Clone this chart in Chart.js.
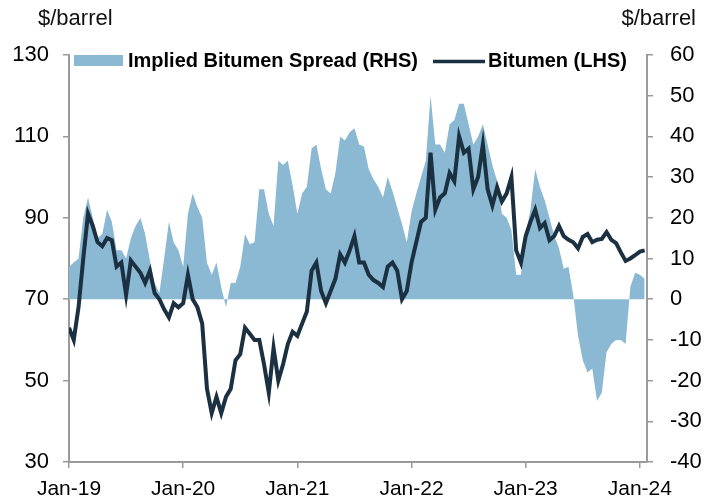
<!DOCTYPE html>
<html>
<head>
<meta charset="utf-8">
<script src="https://cdn.jsdelivr.net/npm/chart.js@4.4.1/dist/chart.umd.min.js"></script>
<style>
  html, body { margin: 0; padding: 0; background: #fff; }
  #wrap { width: 715px; height: 504px; }
</style>
</head>
<body>
<div id="wrap"><canvas id="chart" width="715" height="504"></canvas></div>
<script>
// x axis tick labels, one per January
const xLabels = ['Jan-19', 'Jan-20', 'Jan-21', 'Jan-22', 'Jan-23', 'Jan-24'];
// points are read every half month starting Jan-19
const stepMonths = 0.5;

// Bitumen price, $/barrel (LHS)
const bitumen = [
  63, 60, 68, 80, 91, 88, 84, 83, 85, 84.5, 78, 79,
  71, 79.5, 78, 76.5, 74, 77, 71.5, 70, 67.5, 65.5, 69, 68,
  69, 76, 70, 68, 64, 48, 42, 46, 42, 46, 48, 55,
  56.5, 63, 61.5, 60, 60, 54, 47, 58, 50, 54, 59, 62,
  61, 64, 67, 77, 79, 72, 69, 72, 75, 81, 79, 82,
  85.5, 79, 79, 76, 74.7, 74, 73, 78, 79, 77, 70, 72,
  79, 84, 89, 90, 106, 92, 95, 96, 101, 99, 110, 106,
  107, 97, 100, 108, 97, 93, 97.5, 94, 96, 100, 82, 79,
  85.5, 89, 92, 87.5, 88.7, 84.5, 85.5, 88, 85.5, 84.6, 84, 82.5,
  85.3, 86, 84, 84.6, 84.8, 86.5, 84.6, 83.8, 81.5, 79.4, 80, 80.8,
  81.7, 82
];

// Implied bitumen spread, $/barrel (RHS)
const spread = [
  8, 9, 10, 20, 25, 20, 15, 16, 22, 19, 12, 12,
  10, 15, 18, 20, 16, 9.6, 4, 1.5, 10, 19, 14, 12,
  8, 21, 26, 22.6, 20, 9, 6, 9, 3, -2, 4, 4,
  8, 16, 13.5, 14, 27, 27, 21, 18, 34, 33, 34, 28,
  21, 26, 27.6, 37, 38, 32, 27, 26, 31, 40, 39, 41,
  42, 38, 37.5, 32, 29.5, 27.6, 25, 30, 26.5, 22.5, 18.5, 14,
  21.5, 26, 30, 34, 50, 38, 38, 36, 43, 44, 48, 48,
  43, 38, 40, 43, 38, 33, 29, 21, 20, 17, 6, 6,
  16, 22, 32, 27.5, 24.3, 20, 15.5, 12.5, 7.5, 8, 1, -9,
  -15, -18, -17, -25, -23, -13, -11, -10, -10, -11, 3, 6.5,
  6, 5
];

const unitLabel = '$/barrel';
const font = 'Arial, "Liberation Sans", sans-serif';
const areaColor = '#8BB9D3';
const lineColor = '#1B3040';
const axisColor = '#9A9A9A';

const toPoints = arr => arr.map((v, i) => ({ x: i * stepMonths, y: v }));

// draws the two unit labels and the legend inside the plot
const overlay = {
    id: 'overlay',
    afterDraw(chart) {
        const ctx = chart.ctx;
        const area = chart.chartArea;
        const ds = chart.data.datasets;
        ctx.save();
        ctx.fillStyle = '#111';
        ctx.font = '22px ' + font;
        ctx.textBaseline = 'middle';
        ctx.textAlign = 'left';
        ctx.fillText(unitLabel, 38, 19);
        ctx.textAlign = 'right';
        ctx.fillText(unitLabel, 696, 19);

        // legend
        const ly = area.top + 5.5;
        ctx.font = 'bold 20px ' + font;
        ctx.textAlign = 'left';
        ctx.fillStyle = ds[0].backgroundColor;
        ctx.fillRect(area.left + 5, ly - 5.5, 49, 11);
        ctx.fillStyle = '#000';
        ctx.fillText(ds[0].label, area.left + 59, ly + 1);

        ctx.strokeStyle = ds[1].borderColor;
        ctx.lineWidth = 3.5;
        ctx.beginPath();
        ctx.moveTo(433, ly + 1);
        ctx.lineTo(485, ly + 1);
        ctx.stroke();
        ctx.fillText(ds[1].label, 488, ly + 1);
        ctx.restore();
    }
};

const tickFont = { family: font, size: 22 };

new Chart(document.getElementById('chart').getContext('2d'), {
    type: 'line',
    data: {
        datasets: [{
            label: 'Implied Bitumen Spread (RHS)',
            data: toPoints(spread),
            yAxisID: 'y1',
            backgroundColor: areaColor,
            borderWidth: 0,
            pointRadius: 0,
            fill: 'origin',
            order: 2
        }, {
            label: 'Bitumen (LHS)',
            data: toPoints(bitumen),
            yAxisID: 'y',
            borderColor: lineColor,
            borderWidth: 4,
            pointRadius: 0,
            fill: false,
            order: 1
        }]
    },
    options: {
        responsive: false,
        animation: false,
        devicePixelRatio: 1,
        layout: { padding: { top: 55, left: 0, right: 0, bottom: 0 } },
        plugins: {
            legend: { display: false },
            tooltip: { enabled: false }
        },
        scales: {
            x: {
                type: 'linear',
                min: 0,
                max: 60.75,
                afterFit: s => { s.height = 42; },
                ticks: {
                    stepSize: 12,
                    includeBounds: false,
                    autoSkip: false,
                    maxRotation: 0,
                    padding: 9,
                    color: '#000',
                    font: { family: font, size: 21 },
                    callback: v => xLabels[Math.round(v / 12)]
                },
                grid: { drawOnChartArea: false, color: axisColor, lineWidth: 1.5, tickLength: 6 },
                border: { color: axisColor, width: 2 }
            },
            y: {
                position: 'left',
                min: 30,
                max: 130,
                afterFit: s => { s.width = 69; },
                ticks: { stepSize: 20, padding: 14, color: '#000', font: tickFont },
                grid: { drawOnChartArea: false, color: axisColor, lineWidth: 1.5, tickLength: 6 },
                border: { color: axisColor, width: 2 }
            },
            y1: {
                position: 'right',
                min: -40,
                max: 60,
                afterFit: s => { s.width = 68; },
                ticks: { stepSize: 10, padding: 17, color: '#000', font: tickFont },
                grid: { drawOnChartArea: false, color: axisColor, lineWidth: 1.5, tickLength: 6 },
                border: { color: axisColor, width: 2 }
            }
        }
    },
    plugins: [overlay]
});
</script>
</body>
</html>
